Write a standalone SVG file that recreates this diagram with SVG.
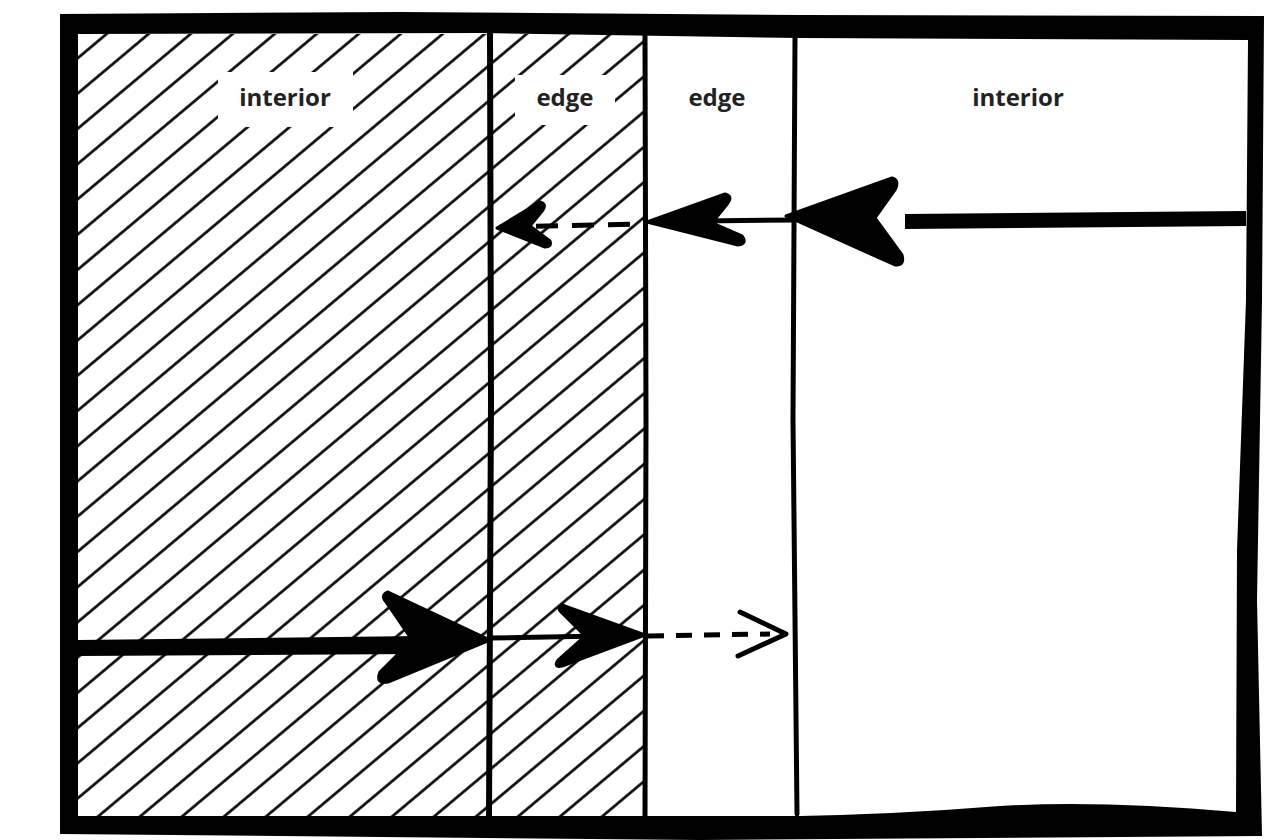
<svg xmlns="http://www.w3.org/2000/svg" width="1266" height="840" viewBox="0 0 1266 840">
<defs>
<pattern id="hatch" patternUnits="userSpaceOnUse" width="27" height="27" patternTransform="rotate(-40)">
<line x1="0" y1="13.5" x2="27" y2="13.5" stroke="#000" stroke-width="2.6"/>
</pattern>
<style>
.lbl{font-family:"Open Sans","Liberation Sans",sans-serif;font-weight:bold;font-size:24px;fill:#222;text-anchor:middle}
.div{stroke:#000;fill:none;stroke-linecap:round}
.ah{fill:#000;stroke:#000;stroke-linejoin:round}
</style>
</defs>
<rect width="1266" height="840" fill="#fff"/>
<g id="zones">
<rect x="78" y="34" width="567" height="784" fill="url(#hatch)"/>
<rect x="218" y="72" width="135" height="55" fill="#fff"/>
<rect x="515" y="75" width="100" height="50" fill="#fff"/>
</g>
<g id="frame">
<path fill="#000" fill-rule="evenodd" d="M60 14 L400 12 L800 15 L1264 16 L1262 300 L1257 600 L1262 836 L700 840 L60 834 Z M78 34 L480 33 L800 38 L1248 40 L1246 300 L1237 550 L1236 812 Q1100 800 1000 806 Q900 814 800 816 L78 816 Z"/>
</g>
<g id="dividers">
<path class="div" d="M490 34 L491 400 L489 818" stroke-width="6"/>
<path class="div" d="M645 34 L646 420 L645 816" stroke-width="5"/>
<path class="div" d="M795 36 L793 420 L797 814" stroke-width="5"/>
</g>
<g id="labels">
<text class="lbl" x="285" y="106">interior</text>
<text class="lbl" x="565" y="106">edge</text>
<text class="lbl" x="717" y="106">edge</text>
<text class="lbl" x="1018" y="106">interior</text>
</g>
<g id="connectors">
<path d="M905 214 L1246 211 L1246 226 L905 229 Z" fill="#000"/>
<path class="ah" d="M786 216 L892 178 Q900 180 895 190 L875 218 L902 255 Q905 266 895 265 Z" stroke-width="3"/>
<line x1="700" y1="221" x2="795" y2="220" stroke="#000" stroke-width="5"/>
<path class="ah" d="M647 222 L725 194 Q733 196 728 203 L712 223 L742 236 Q748 244 738 245 Z" stroke-width="3"/>
<line x1="500" y1="227" x2="645" y2="224" stroke="#000" stroke-width="5" stroke-dasharray="22,14"/>
<path class="ah" d="M497 228 L540 202 Q547 204 543 210 L530 226 L550 241 Q552 247 545 247 Z" stroke-width="3"/>
<path d="M78 640 L420 636 L420 654 L78 656 Z" fill="#000"/>
<path class="ah" d="M490 640 L388 592 Q380 595 386 602 L412 640 L380 672 Q375 684 388 682 Z" stroke-width="3"/>
<line x1="490" y1="638" x2="600" y2="636" stroke="#000" stroke-width="5"/>
<path class="ah" d="M645 635 L562 605 Q556 608 562 613 L585 636 L558 660 Q553 668 562 666 Z" stroke-width="3"/>
<line x1="648" y1="636" x2="770" y2="634" stroke="#000" stroke-width="5" stroke-dasharray="16,12"/>
<path d="M740 612 L786 634 L738 656" fill="none" stroke="#000" stroke-width="5" stroke-linejoin="round" stroke-linecap="round"/>
</g>
</svg>
